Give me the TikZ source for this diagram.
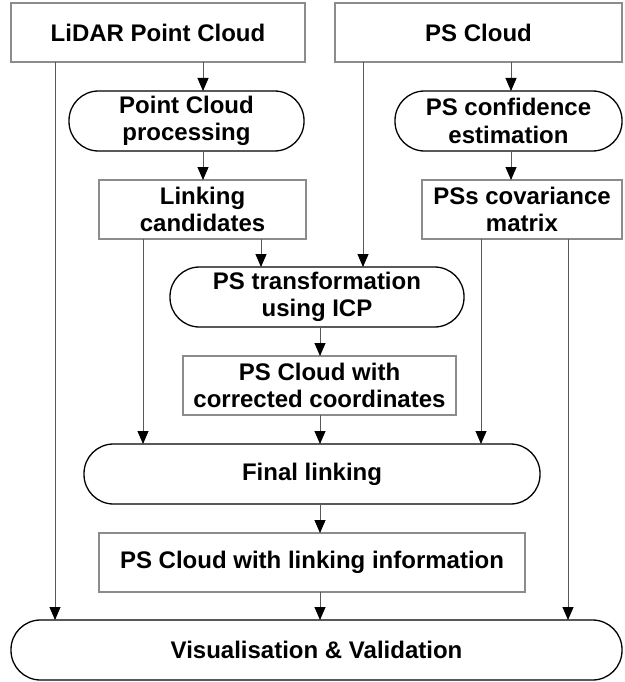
\documentclass[tikz,border=0pt]{standalone}
\usepackage{fontspec}
\setmainfont{Liberation Sans}
\usetikzlibrary{arrows.meta}

\tikzset{
    box/.style={draw=black!45, line width=1.1pt, inner sep=0pt, outer sep=0pt, align=center,
        font=\bfseries\fontsize{24}{27.5}\selectfont},
    proc/.style={box, draw=black, line width=1.3pt, rounded corners=29.5pt},
    arr/.style={draw=black!65, line width=0.9pt, -{Triangle[width=11pt,length=13pt,color=black]}}
}

\begin{document}
\begin{tikzpicture}[x=1pt, y=-1pt]
    \useasboundingbox (0,0) rectangle (624,682);
    \node[box, minimum width=294pt, minimum height=59pt] (lidar) at (158,32.5) {LiDAR Point Cloud};
    \node[box, minimum width=287pt, minimum height=59pt] (pscloud) at (478.5,32.5) {PS Cloud};
    \node[proc, minimum width=235pt, minimum height=60pt] (pcproc) at (186.5,121) {Point Cloud\\processing};
    \node[proc, minimum width=227pt, minimum height=60pt] (psconf) at (508.5,121) {PS confidence\\estimation};
    \node[box, minimum width=207pt, minimum height=59pt] (linkcand) at (202.5,209.5) {Linking\\candidates};
    \node[box, minimum width=200pt, minimum height=59pt] (pscov) at (522,209.5) {PSs covariance\\matrix};
    \node[proc, minimum width=294pt, minimum height=60pt] (pstrans) at (317,297) {PS transformation\\using ICP};
    \node[box, minimum width=273pt, minimum height=59pt] (pscorr) at (319.5,385.5) {PS Cloud with\\corrected coordinates};
    \node[proc, minimum width=456pt, minimum height=60pt] (final) at (312,474) {Final linking};
    \node[box, minimum width=426pt, minimum height=59pt] (pslink) at (312,562.5) {PS Cloud with linking information};
    \node[proc, minimum width=611pt, minimum height=60pt] (visval) at (316.5,650) {Visualisation \& Validation};

    \coordinate (xlid) at (203,0);
    \coordinate (xleft) at (55,0);
    \coordinate (xcand) at (143,0);
    \coordinate (xicp) at (261,0);
    \coordinate (xps) at (363,0);
    \coordinate (xconf) at (511,0);
    \coordinate (xcov) at (481,0);
    \coordinate (xright) at (568,0);
    \coordinate (xmid) at (320,0);

    \draw[arr] (lidar.south -| xlid) -- (pcproc.north -| xlid);
    \draw[arr] (pcproc.south -| xlid) -- (linkcand.north -| xlid);
    \draw[arr] (lidar.south -| xleft) -- (visval.north -| xleft);
    \draw[arr] (linkcand.south -| xcand) -- (final.north -| xcand);
    \draw[arr] (linkcand.south -| xicp) -- (pstrans.north -| xicp);
    \draw[arr] (pscloud.south -| xps) -- (pstrans.north -| xps);
    \draw[arr] (pscloud.south -| xconf) -- (psconf.north -| xconf);
    \draw[arr] (psconf.south -| xconf) -- (pscov.north -| xconf);
    \draw[arr] (pscov.south -| xcov) -- (final.north -| xcov);
    \draw[arr] (pscov.south -| xright) -- (visval.north -| xright);
    \draw[arr] (pstrans.south -| xmid) -- (pscorr.north -| xmid);
    \draw[arr] (pscorr.south -| xmid) -- (final.north -| xmid);
    \draw[arr] (final.south -| xmid) -- (pslink.north -| xmid);
    \draw[arr] (pslink.south -| xmid) -- (visval.north -| xmid);
\end{tikzpicture}
\end{document}
